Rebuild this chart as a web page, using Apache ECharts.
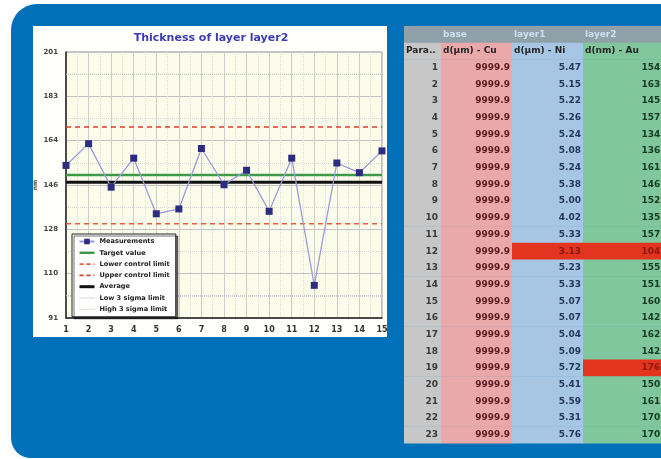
<!DOCTYPE html>
<html><head><meta charset="utf-8">
<script src="https://cdn.jsdelivr.net/npm/echarts@6/dist/echarts.min.js"></script>
<style>html,body{margin:0;padding:0;background:#fff;}#c{width:661px;height:459px;}</style>
</head><body><div id="c"></div>
<script>
// ---- chart data ----
const xCategories = [1,2,3,4,5,6,7,8,9,10,11,12,13,14,15];
const yTickValues = [91, 109.33, 127.67, 146, 164.33, 182.67, 201];
const yTickLabels = ['91','110','128','146','164','183','201'];
const yMinorValues = [100.17, 118.5, 136.83, 155.17, 173.5, 191.83];
const targetValue = 150.1;
const lowerControlLimit = 130.0;
const upperControlLimit = 170.0;
const averageValue = 147.1;
const low3Sigma = 100.2;
const high3Sigma = 191.8;

// ---- table data ----
const paramNumbers = [1,2,3,4,5,6,7,8,9,10,11,12,13,14,15,16,17,18,19,20,21,22,23];
const baseValues = ['9999.9','9999.9','9999.9','9999.9','9999.9','9999.9','9999.9','9999.9','9999.9','9999.9','9999.9','9999.9','9999.9','9999.9','9999.9','9999.9','9999.9','9999.9','9999.9','9999.9','9999.9','9999.9','9999.9'];
const layer1Values = ['5.47','5.15','5.22','5.26','5.24','5.08','5.24','5.38','5.00','4.02','5.33','3.13','5.23','5.33','5.07','5.07','5.04','5.09','5.72','5.41','5.59','5.31','5.76'];
const layer2Values = [154.1,163.1,145.1,157.1,134.1,136.1,161.1,146.1,152.1,135.1,157.1,104.5,155.1,151.1,160.1,142.1,162.1,142.1,176.1,150.1,161.1,170.1,170.1];
const groupHeaders = ['', 'base', 'layer1', 'layer2'];
const columnHeaders = ['Para..', 'd(\u00b5m) - Cu', 'd(\u00b5m) - Ni', 'd(nm) - Au'];
const flaggedLayer1Rows = [12];
const flaggedLayer2Rows = [12, 19];

const measurements = layer2Values.slice(0, xCategories.length);

// ---- layout / style constants ----
const colEdges = [0, 37, 108, 179, 280];
const colFills = ['#c7c7c7', '#e9a9aa', '#a6c6e4', '#80c79e'];
const colText = ['#3a3a3a', '#5a1c20', '#22385a', '#143a22'];
const redFill = '#e2341f';
const FONT = 'DejaVu Sans';

const rowCats = ['grp', 'hdr'].concat(paramNumbers.map(String));
const cells = [];
for (let c = 0; c < 4; c++) {
  cells.push({value: [c, 0], text: groupHeaders[c], fill: '#8fa0a8', color: '#d2def0', align: 'left'});
  cells.push({value: [c, 1], text: columnHeaders[c], fill: colFills[c], color: '#262626', align: 'left'});
}
paramNumbers.forEach((p, i) => {
  const r = i + 2;
  cells.push({value: [0, r], text: String(p), fill: colFills[0], color: colText[0], align: 'right'});
  cells.push({value: [1, r], text: baseValues[i], fill: colFills[1], color: colText[1], align: 'right'});
  const f1 = flaggedLayer1Rows.indexOf(p) >= 0;
  cells.push({value: [2, r], text: layer1Values[i], fill: f1 ? redFill : colFills[2], color: f1 ? '#8a1a10' : colText[2], align: 'right'});
  const f2 = flaggedLayer2Rows.indexOf(p) >= 0;
  cells.push({value: [3, r], text: layer2Values[i].toFixed(1), fill: f2 ? redFill : colFills[3], color: f2 ? '#8a1a10' : colText[3], align: 'edge'});
});

const chart = echarts.init(document.getElementById('c'), null, {renderer: 'canvas'});

function hLine(name, v, color, width, type) {
  return {
    name: name, type: 'line', xAxisIndex: 0, yAxisIndex: 0,
    data: [[xCategories[0], v], [xCategories[xCategories.length - 1], v]],
    symbol: 'none', silent: true, z: 3,
    itemStyle: {color: color},
    lineStyle: {color: color, width: width, type: type}
  };
}
function legendLine(name, color, width, type) {
  return {name: name, itemStyle: {opacity: 0}, lineStyle: {color: color, width: width, type: type}};
}

const option = {
  animation: false,
  graphic: [
    {type: 'rect', z: -10, shape: {x: 11, y: 4, width: 720, height: 454, r: [26, 0, 0, 20]}, style: {fill: '#0071b8'}},
    {type: 'rect', z: -9, shape: {x: 33, y: 26, width: 354, height: 311}, style: {fill: '#fffffb'}}
  ],
  title: {
    text: 'Thickness of layer layer2', left: 206, top: 28, textAlign: 'center',
    textStyle: {fontSize: 11, fontWeight: 'bold', color: '#3c3cb0', fontFamily: FONT}
  },
  legend: {
    orient: 'vertical', left: 72, top: 234,
    backgroundColor: '#ffffff', borderColor: '#222', borderWidth: 1,
    shadowColor: 'rgba(0,0,0,0.55)', shadowOffsetX: 2, shadowOffsetY: 2, shadowBlur: 0,
    padding: [4, 6, 4, 6], itemWidth: 15, itemHeight: 7, itemGap: 4.3,
    textStyle: {fontSize: 6.6, fontWeight: 'bold', color: '#222', fontFamily: FONT},
    data: [
      'Measurements',
      legendLine('Target value', '#3c9a48', 2.5, 'solid'),
      legendLine('Lower control limit', '#ea5a3a', 1.6, [4, 3]),
      legendLine('Upper control limit', '#e23a2a', 1.6, [4, 3]),
      legendLine('Average', '#111111', 3, 'solid'),
      legendLine('Low 3 sigma limit', '#a8a8c0', 1, 'dotted'),
      legendLine('High 3 sigma limit', '#a8c0a8', 1, 'dotted')
    ]
  },
  grid: [
    {left: 66, top: 52, width: 316, height: 266, show: true, backgroundColor: '#fcfcea', borderColor: '#8a8a8a', borderWidth: 1},
    {left: 404, top: 26, right: 0, height: 417}
  ],
  xAxis: [
    {
      type: 'value', gridIndex: 0, min: 1, max: 15, interval: 1,
      axisLine: {show: true, lineStyle: {color: '#222', width: 1.5}},
      axisTick: {show: false},
      axisLabel: {color: '#333', fontSize: 8, fontWeight: 'bold', margin: 8, fontFamily: FONT},
      splitLine: {show: true, lineStyle: {color: '#cdcdcd', width: 1}},
      minorTick: {show: false, splitNumber: 2},
      minorSplitLine: {show: true, lineStyle: {color: '#dedede', type: 'dotted'}}
    },
    {type: 'value', gridIndex: 1, min: 0, max: 257, show: false}
  ],
  yAxis: [
    {
      type: 'value', gridIndex: 0, min: 91, max: 201,
      axisLine: {show: true, lineStyle: {color: '#222', width: 1.5}},
      axisTick: {show: false, customValues: yTickValues},
      axisLabel: {
        customValues: yTickValues, color: '#444', fontSize: 7, fontWeight: 'bold', margin: 8, fontFamily: FONT,
        formatter: function (v) { const i = yTickValues.indexOf(v); return i >= 0 ? yTickLabels[i] : String(Math.round(v)); }
      },
      splitLine: {show: true, lineStyle: {color: '#c2c2c2', width: 1}},
      name: 'nm', nameLocation: 'middle', nameGap: 28, nameRotate: 90,
      nameTextStyle: {fontSize: 6, fontWeight: 'bold', color: '#444', fontFamily: FONT}
    },
    {
      type: 'value', gridIndex: 0, min: 91, max: 201,
      axisLine: {show: false}, axisLabel: {show: false},
      axisTick: {show: false, customValues: yMinorValues},
      splitLine: {show: true, lineStyle: {color: '#d6d6d6', type: 'dotted'}}
    },
    {type: 'category', gridIndex: 1, data: rowCats, inverse: true, show: false}
  ],
  series: [
    {
      name: 'Measurements', type: 'line', xAxisIndex: 0, yAxisIndex: 0, z: 5,
      data: xCategories.map((x, i) => [x, measurements[i]]),
      symbol: 'rect', symbolSize: 7,
      itemStyle: {color: '#2d2d80'},
      lineStyle: {color: '#9b9bdc', width: 1.3}
    },
    hLine('Target value', targetValue, '#3c9a48', 2.5, 'solid'),
    hLine('Lower control limit', lowerControlLimit, '#ea5a3a', 1.6, [5, 4]),
    hLine('Upper control limit', upperControlLimit, '#e23a2a', 1.6, [5, 4]),
    hLine('Average', averageValue, '#111111', 3, 'solid'),
    hLine('Low 3 sigma limit', low3Sigma, '#b8b8c8', 1, 'dotted'),
    hLine('High 3 sigma limit', high3Sigma, '#b8c8b8', 1, 'dotted'),
    {
      type: 'custom', xAxisIndex: 1, yAxisIndex: 2, silent: true, clip: false,
      data: cells.map(c => c.value),
      renderItem: function (params, api) {
        const cell = cells[params.dataIndex];
        const col = api.value(0), row = api.value(1);
        const x0 = api.coord([colEdges[col], row])[0];
        const x1 = api.coord([colEdges[col + 1], row])[0];
        const yc = api.coord([0, row])[1];
        const h = api.size([0, 1])[1];
        let tx, align;
        if (cell.align === 'left') { tx = x0 + 2; align = 'left'; }
        else if (cell.align === 'edge') { tx = api.coord([266, row])[0]; align = 'right'; }
        else { tx = x1 - (col === 0 ? 3 : 2); align = 'right'; }
        return {
          type: 'group',
          children: [
            {type: 'rect', shape: {x: x0, y: yc - h / 2, width: x1 - x0 + 0.5, height: h + 0.5}, style: {fill: cell.fill}},
            {type: 'text', style: {text: cell.text, x: tx, y: yc, align: align, verticalAlign: 'middle',
              fill: cell.color, font: 'bold 9px "' + FONT + '"'}}
          ]
        };
      }
    }
  ]
};
chart.setOption(option);
</script>
</body></html>
